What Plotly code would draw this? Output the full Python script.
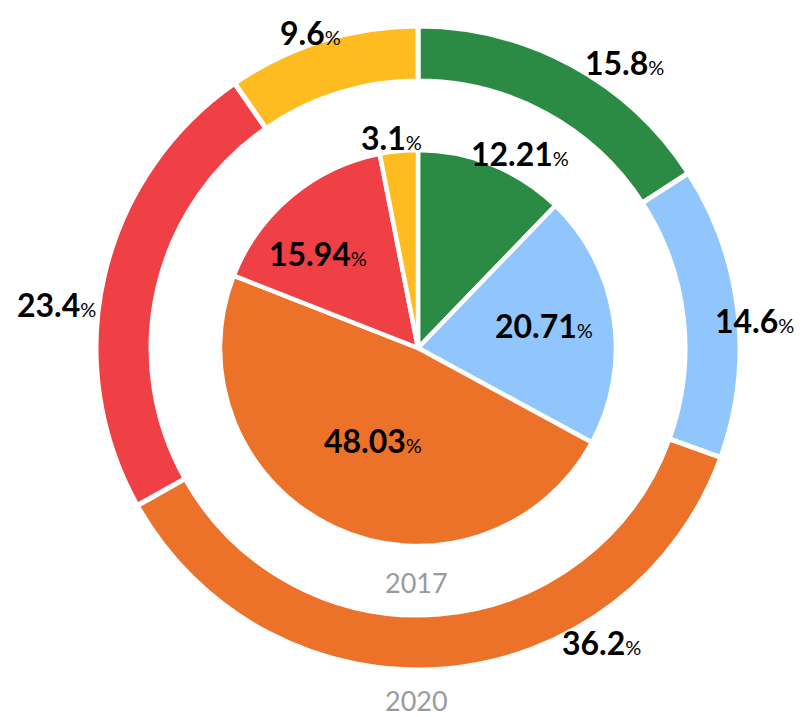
import plotly.graph_objects as go

categories = ["Green", "Light blue", "Orange", "Red", "Yellow"]
values_2017 = [12.21, 20.71, 48.03, 15.94, 3.1]
values_2020 = [15.8, 14.6, 36.2, 23.4, 9.6]
year_labels = ["2017", "2020"]
colors = ["#2B8A43", "#90C6FC", "#EB7228", "#EF4046", "#FEBC20"]

# ---- layout / style (screen pixels; page body has an 8px margin) ----
OFF = 8
W, H = 812 - OFF, 717 - OFF
cx, cy = 418 - OFF, 348 - OFF
R_out, R_in = 322, 198
label_pos_2020 = [(624, 63), (754, 320), (601, 642), (56, 304), (310, 33)]
label_pos_2017 = [(520, 153), (544, 325), (373, 440), (318, 253), (391, 138)]
year_pos = [(416, 582), (416, 700)]


def dom(r):
    return dict(x=[(cx - r) / W, (cx + r) / W],
                y=[(H - cy - r) / H, (H - cy + r) / H])


def paper(px, py):
    return (px - OFF) / W, 1 - (py - OFF) / H


fig = go.Figure()
fig.add_trace(go.Pie(
    labels=categories, values=values_2020, hole=267 / R_out, sort=False,
    direction="clockwise", rotation=0, textinfo="none",
    marker=dict(colors=colors, line=dict(color="white", width=5)),
    domain=dom(R_out), showlegend=False, hoverinfo="label+value",
))
fig.add_trace(go.Pie(
    labels=categories, values=values_2017, sort=False,
    direction="clockwise", rotation=0, textinfo="none",
    marker=dict(colors=colors, line=dict(color="white", width=4.5)),
    domain=dom(R_in), showlegend=False, hoverinfo="label+value",
))


def fmt(v):
    return ("<b>%s</b><span style='font-size:20px;font-weight:normal'>%%</span>"
            % ("{:g}".format(v)))


for vals, poss in ((values_2020, label_pos_2020), (values_2017, label_pos_2017)):
    for v, (px, py) in zip(vals, poss):
        x, y = paper(px, py)
        fig.add_annotation(text=fmt(v), x=x, y=y, xref="paper", yref="paper",
                           showarrow=False, xanchor="center", yanchor="middle",
                           font=dict(family="Lato", size=32, color="black"))

for t, (px, py) in zip(year_labels, year_pos):
    x, y = paper(px, py)
    fig.add_annotation(text=t, x=x, y=y, xref="paper", yref="paper",
                       showarrow=False, xanchor="center", yanchor="middle",
                       font=dict(family="Lato", size=27, color="#9A9A9E"))

fig.update_layout(width=W, height=H,
                  margin=dict(l=0, r=0, t=0, b=0, autoexpand=False),
                  paper_bgcolor="white", plot_bgcolor="white")
fig.write_html("out.html")
